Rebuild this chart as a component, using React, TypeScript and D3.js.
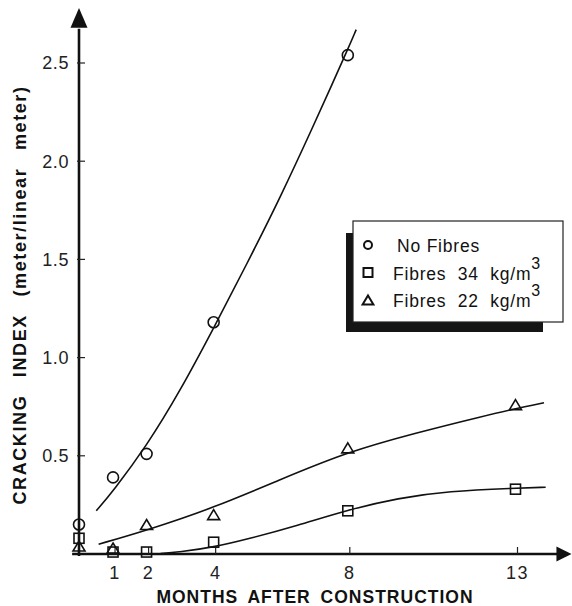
import React, { useEffect, useRef } from "react";
import * as d3 from "d3";

// observed points (months after construction, cracking index)
const obsMonths = [0, 1, 2, 4, 8, 13];
const noFibres = [0.15, 0.39, 0.51, 1.18, 2.54]; // no reading at 13 months
const fibres34 = [0.08, 0.01, 0.01, 0.06, 0.22, 0.33];
const fibres22 = [0.02, 0.01, 0.13, 0.18, 0.52, 0.74];

// hand-fitted curves
const fitNoMonths = [0.5, 1, 2, 3, 4, 5, 6, 7, 7.5, 8, 8.25];
const fitNoValues = [0.22, 0.32, 0.55, 0.83, 1.15, 1.48, 1.82, 2.19, 2.38, 2.57, 2.67];
const fit34Months = [2.3, 3, 4, 5, 6.5, 8, 9.5, 11, 13, 13.9];
const fit34Values = [0, 0.01, 0.035, 0.075, 0.145, 0.225, 0.285, 0.32, 0.335, 0.34];
const fit22Months = [0.57, 2, 4, 6, 8, 10, 12, 13, 13.85];
const fit22Values = [0.05, 0.12, 0.235, 0.38, 0.52, 0.615, 0.7, 0.74, 0.77];

const xTicks = [1, 2, 4, 8, 13];
const yTicks = [0.5, 1.0, 1.5, 2.0, 2.5];

const legendLabels = ["No Fibres", "Fibres  34  kg/m", "Fibres  22  kg/m"];
const legendSups = ["", "3", "3"];
const legendShapes = ["circle", "square", "triangle"];

const FONT = "'Liberation Sans', Arial, Helvetica, sans-serif";

const App = () => {
  const svgRef = useRef<SVGSVGElement>(null);

  useEffect(() => {
    const svg = d3.select(svgRef.current);
    svg.selectAll("*").remove();

    const x = d3.scaleLinear().domain([0, 13]).range([79.5, 515.5]);
    const y = d3.scaleLinear().domain([0, 2.5]).range([554, 63]);

    const axisX = x(0) - 0.5;
    const axisY = y(0);

    // axes with solid arrow heads
    const yTip = y(2.78);
    const yBase = y(2.68);
    svg
      .append("line")
      .attr("x1", axisX)
      .attr("y1", axisY + 2)
      .attr("x2", axisX)
      .attr("y2", yBase + 1)
      .attr("stroke", "#111")
      .attr("stroke-width", 2.6);
    svg
      .append("path")
      .attr("d", `M${axisX},${yTip} L${axisX + 8.5},${yBase} L${axisX - 8.5},${yBase} Z`)
      .attr("fill", "#111");

    const xTip = x(14.67);
    const xBase = x(14.22);
    svg
      .append("line")
      .attr("x1", x(-0.22))
      .attr("y1", axisY)
      .attr("x2", xBase + 1)
      .attr("y2", axisY)
      .attr("stroke", "#111")
      .attr("stroke-width", 2.6);
    svg
      .append("path")
      .attr("d", `M${xTip},${axisY} L${xBase},${axisY - 7.5} L${xBase},${axisY + 7.5} Z`)
      .attr("fill", "#111");

    // y ticks + labels
    const yt = svg.append("g").attr("font-family", FONT).attr("font-size", 18).attr("fill", "#222");
    yTicks.forEach((t) => {
      yt.append("line")
        .attr("x1", axisX - 2)
        .attr("x2", axisX + 6)
        .attr("y1", y(t))
        .attr("y2", y(t))
        .attr("stroke", "#222")
        .attr("stroke-width", 1.2);
      yt.append("text")
        .attr("x", axisX - 10)
        .attr("y", y(t))
        .attr("dy", "0.36em")
        .attr("text-anchor", "end")
        .attr("letter-spacing", 0.6)
        .text(t.toFixed(1));
    });

    // x ticks + labels
    const xt = svg.append("g").attr("font-family", FONT).attr("font-size", 18).attr("fill", "#222");
    xTicks.forEach((t) => {
      xt.append("line")
        .attr("x1", x(t) + 2)
        .attr("x2", x(t) + 2)
        .attr("y1", axisY)
        .attr("y2", axisY - 7)
        .attr("stroke", "#222")
        .attr("stroke-width", 1.2);
      xt.append("text")
        .attr("x", x(t) + 2)
        .attr("y", 579)
        .attr("text-anchor", "middle")
        .attr("letter-spacing", 1.5)
        .text(t);
    });

    // axis titles
    svg
      .append("text")
      .attr("x", 315)
      .attr("y", 603)
      .attr("text-anchor", "middle")
      .attr("font-family", FONT)
      .attr("font-weight", "bold")
      .attr("font-size", 17.5)
      .attr("letter-spacing", 1)
      .attr("word-spacing", 4)
      .attr("fill", "#111")
      .text("MONTHS AFTER CONSTRUCTION");

    svg
      .append("text")
      .attr("transform", "translate(26,295) rotate(-90)")
      .attr("text-anchor", "middle")
      .attr("font-family", FONT)
      .attr("font-weight", "bold")
      .attr("font-size", 18)
      .attr("letter-spacing", 1.6)
      .attr("word-spacing", 11)
      .attr("fill", "#111")
      .text("CRACKING INDEX (meter/linear meter)");

    // fitted curves
    const line = d3
      .line<[number, number]>()
      .x((d) => x(d[0]))
      .y((d) => y(d[1]))
      .curve(d3.curveBasis);

    const fits: [number[], number[]][] = [
      [fitNoMonths, fitNoValues],
      [fit34Months, fit34Values],
      [fit22Months, fit22Values],
    ];
    fits.forEach(([ms, vs]) => {
      svg
        .append("path")
        .attr("d", line(ms.map((m, i) => [m, vs[i]] as [number, number])))
        .attr("fill", "none")
        .attr("stroke", "#111")
        .attr("stroke-width", 1.6);
    });

    // marker drawing
    const drawMarker = (g: any, shape: string, cx: number, cy: number, s: number, sw: number) => {
      if (shape === "circle") {
        g.append("circle")
          .attr("cx", cx)
          .attr("cy", cy)
          .attr("r", s / 2)
          .attr("fill", "none")
          .attr("stroke", "#111")
          .attr("stroke-width", sw);
      } else if (shape === "square") {
        g.append("rect")
          .attr("x", cx - s / 2)
          .attr("y", cy - s / 2)
          .attr("width", s)
          .attr("height", s)
          .attr("fill", "none")
          .attr("stroke", "#111")
          .attr("stroke-width", sw);
      } else {
        const w = s * 1.2;
        const h = s;
        g.append("path")
          .attr("d", `M${cx},${cy - h / 2} L${cx + w / 2},${cy + h / 2} L${cx - w / 2},${cy + h / 2} Z`)
          .attr("fill", "none")
          .attr("stroke", "#111")
          .attr("stroke-width", sw);
      }
    };

    const marks = svg.append("g");
    const series: [string, number[]][] = [
      ["circle", noFibres],
      ["square", fibres34],
      ["triangle", fibres22],
    ];
    series.forEach(([shape, vals]) => {
      vals.forEach((v, i) => {
        const m = obsMonths[i];
        const cy = y(v) - (shape === "triangle" ? 4 : 0);
        drawMarker(marks, shape, m === 0 ? axisX : x(m), cy, shape === "circle" ? 11 : 10, 1.6);
      });
    });

    // legend
    const lg = svg.append("g");
    lg.append("rect").attr("x", 346).attr("y", 233).attr("width", 197).attr("height", 99).attr("fill", "#151515");
    lg.append("rect")
      .attr("x", 353)
      .attr("y", 221)
      .attr("width", 210)
      .attr("height", 101)
      .attr("fill", "#fff")
      .attr("stroke", "#222")
      .attr("stroke-width", 1.2);

    legendLabels.forEach((lab, i) => {
      const base = 252 + i * 27.5;
      drawMarker(lg, legendShapes[i], 368, base - 7, legendShapes[i] === "circle" ? 8 : 9, 2);
      const t = lg
        .append("text")
        .attr("x", i === 0 ? 397 : 393)
        .attr("y", base)
        .attr("font-family", FONT)
        .attr("font-size", 17.5)
        .attr("letter-spacing", 0.8)
        .attr("fill", "#111")
        .style("white-space", "pre")
        .text(lab);
      if (legendSups[i]) {
        t.append("tspan").attr("dy", -11).attr("font-size", 16).text(legendSups[i]);
      }
    });
  }, []);

  return (
    <svg
      ref={svgRef}
      width={572}
      height={606}
      style={{ position: "absolute", left: 0, top: 0, background: "#fff" }}
    />
  );
};

export default App;
